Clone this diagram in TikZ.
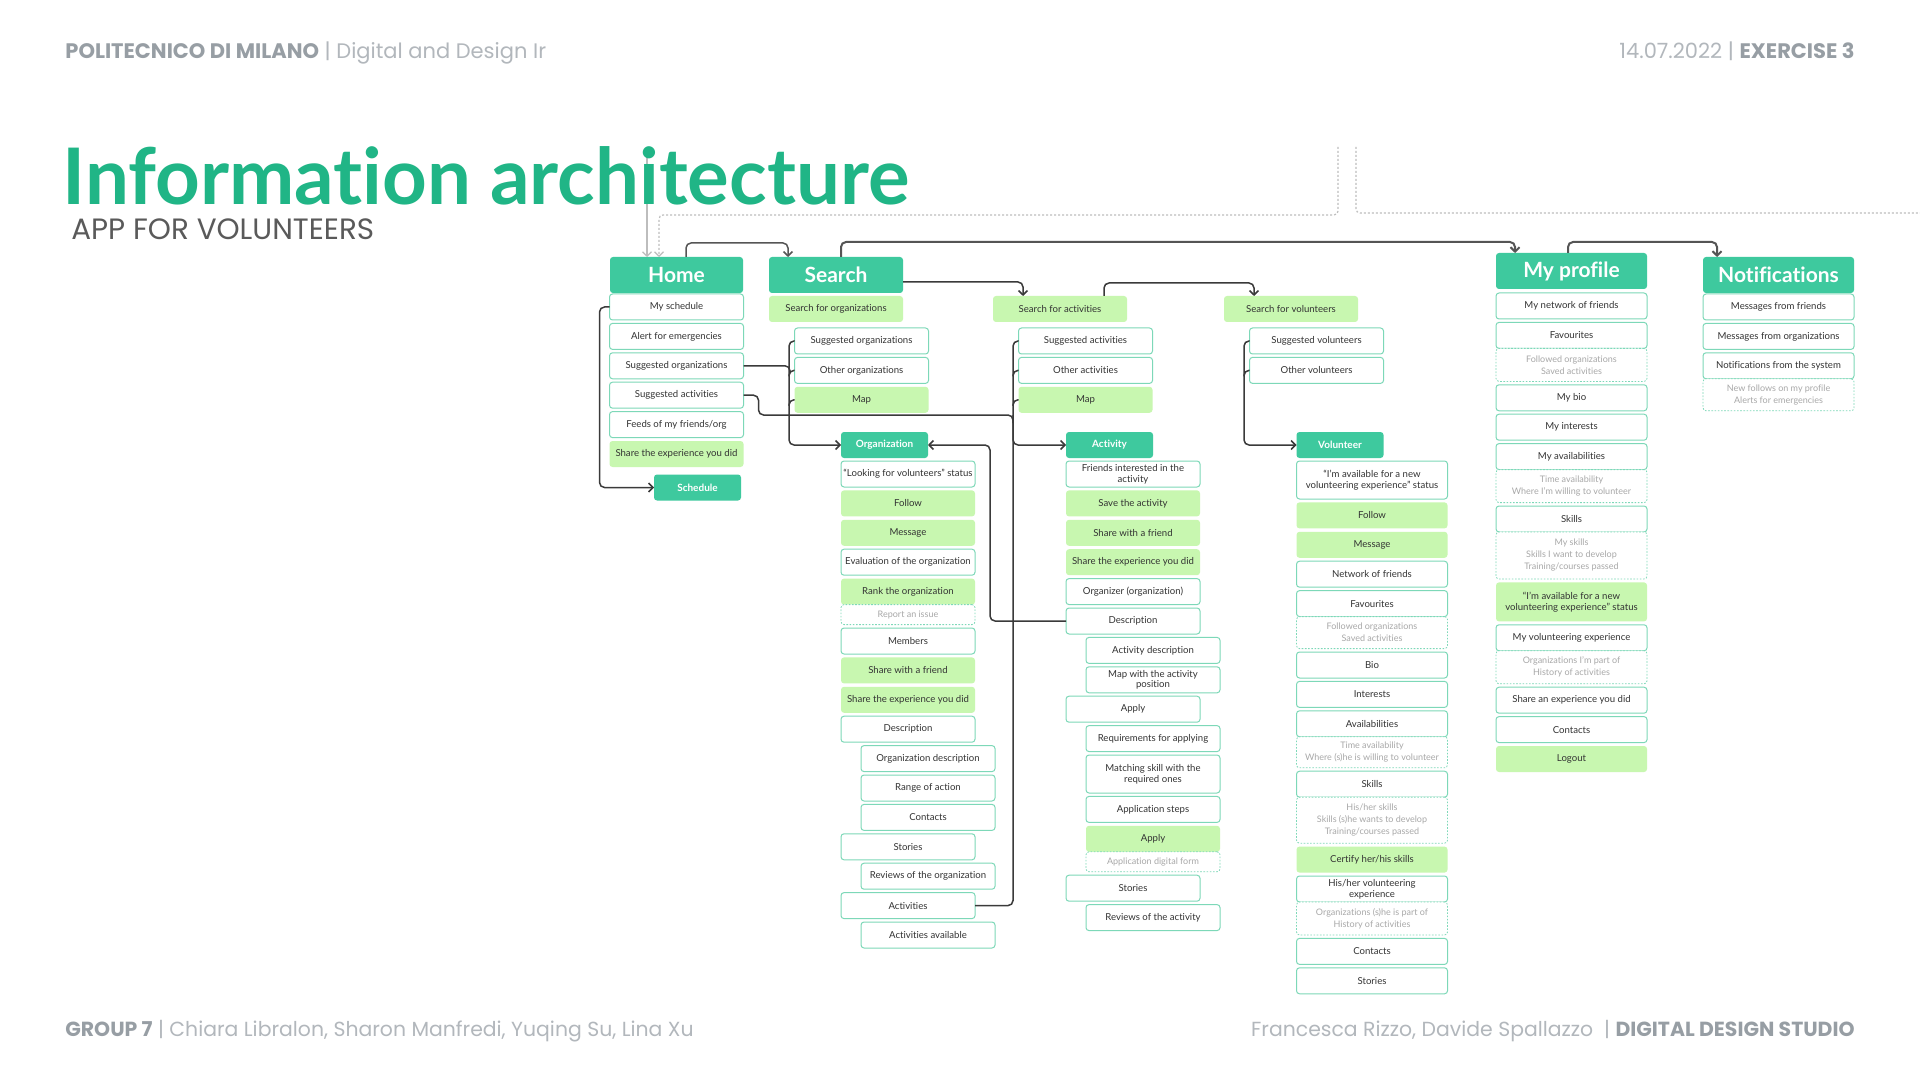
\documentclass[tikz,border=0pt]{standalone}
\usepackage{fontspec}
\setmainfont{Lato}[Ligatures=NoCommon]
\newfontfamily\pagefont{Poppins}
\usetikzlibrary{arrows.meta, positioning, calc}
\definecolor{hgreen}{HTML}{3EC99E}
\definecolor{lgreen}{HTML}{C8F7B0}
\definecolor{bgreen}{HTML}{7DD8B8}
\definecolor{tgreen}{HTML}{20B586}
\definecolor{txt}{HTML}{333333}
\definecolor{notegray}{HTML}{A8A8A8}
\definecolor{lncol}{HTML}{3A3A3A}
\definecolor{topcol}{HTML}{555555}
\definecolor{guidecol}{HTML}{BDBDBD}
\definecolor{pagegray}{HTML}{979EA4}
\definecolor{pglight}{HTML}{B2B7BC}
\definecolor{subcol}{HTML}{5A5A5A}
\tikzset{
    hdr/.style={
        fill=hgreen,
        text=white,
        rounded corners=1.5pt,
        minimum height=18pt,
        inner sep=0pt,
        outer sep=0pt,
        font=\fontsize{10.5}{12}\selectfont\bfseries
    },
    subhdr/.style={
        fill=hgreen,
        text=white,
        rounded corners=1.5pt,
        minimum width=43.5pt,
        minimum height=13pt,
        inner sep=0pt,
        outer sep=0pt,
        font=\fontsize{5}{6}\selectfont\bfseries
    },
    item/.style={
        draw=bgreen,
        line width=0.5pt,
        fill=white,
        rounded corners=1.5pt,
        minimum width=67pt,
        minimum height=13pt,
        inner sep=1pt,
        outer sep=0pt,
        align=center,
        text=txt,
        font=\fontsize{4.8}{5.4}\selectfont
    },
    action/.style={item, draw=none, fill=lgreen},
    wide/.style={minimum width=75.5pt},
    note/.style={item, dash pattern=on 0.8pt off 0.8pt, line width=0.4pt, text=notegray, font=\fontsize{4.5}{6}\selectfont},
    line/.style={-{Straight Barb[length=2.2pt,width=4.5pt]}, draw=lncol, line width=0.75pt, rounded corners=2.5pt},
    branch/.style={draw=lncol, line width=0.75pt, rounded corners=2.5pt},
    topline/.style={line, draw=topcol, line width=1pt},
    guide/.style={-{Straight Barb[length=2.2pt,width=4.5pt]}, draw=guidecol, line width=0.6pt},
    guidedash/.style={guide, dash pattern=on 1pt off 1pt, rounded corners=2pt},
    pagetext/.style={inner sep=0pt, font=\pagefont\fontsize{10.5}{12}\selectfont},
    foottext/.style={inner sep=0pt, font=\pagefont\fontsize{10.2}{12}\selectfont}
}

\begin{document}
\begin{tikzpicture}[x=0.5pt, y=-0.5pt, node distance=1.7pt]
\fill[white] (0,0) rectangle (1920,1080);
\useasboundingbox (0,0) rectangle (1920,1080);

% page header and footer
\node[pagetext, anchor=base west] (school) at (65,59) {\textcolor{pagegray}{\bfseries POLITECNICO DI MILANO} \textcolor{pglight}{| Digital and Design Ir}};
\node[pagetext, anchor=base east] (exercise) at (1855,59) {\textcolor{pglight}{14.07.2022 |} \textcolor{pagegray}{\bfseries EXERCISE 3}};
\node[foottext, anchor=base west] (group) at (65,1036) {\textcolor{pagegray}{\bfseries GROUP 7} \textcolor{pglight}{| Chiara Libralon, Sharon Manfredi, Yuqing Su, Lina Xu}};
\node[foottext, anchor=base east] (studio) at (1855,1036) {\textcolor{pglight}{Francesca Rizzo, Davide Spallazzo \ |} \textcolor{pagegray}{\bfseries DIGITAL DESIGN STUDIO}};

% guides from above
\coordinate (g1) at (647,147);
\coordinate (g2) at (1338,147);
\coordinate (g2b) at (1338,215);
\coordinate (g3) at (1356,147);
\coordinate (g4) at (1920,213);

% main sections
\node[hdr, minimum width=66.5pt] (home) at (676.5,275) {Home};
\node[hdr, minimum width=67pt] (search) at (836,275) {Search};
\node[hdr, wide] (prof) at (1571.5,271) {My profile};
\node[hdr, wide] (notif) at (1778.5,275) {Notifications};

\draw[guide] (g1) -- (g1 |- home.north);
\draw[guidedash] (g2) -- (g2b) -| ([xshift=-8.75pt]home.north);
\draw[guidedash, -] (g3) |- (g4);

\node[anchor=base west, inner sep=0pt, text=tgreen, font=\fontsize{39}{44}\selectfont\bfseries] (title) at (62,205) {Information architecture};
\node[anchor=base west, inner sep=0pt, text=subcol, font=\pagefont\fontsize{14.7}{17}\selectfont] (subtitle) at (71,240) {APP FOR VOLUNTEERS};

% home
\node[item, below=0.5pt of home] (h1) {My schedule};
\node[item, below=of h1] (h2) {Alert for emergencies};
\node[item, below=of h2] (h3) {Suggested organizations};
\node[item, below=of h3] (h4) {Suggested activities};
\node[item, below=of h4] (h5) {Feeds of my friends/org};
\node[action, below=of h5] (h6) {Share the experience you did};
\node[subhdr] (sched) at (697.5,487.5) {Schedule};

% search
\node[action, below=1.5pt of search] (sorg) {Search for organizations};
\node[item, below=3pt of sorg, xshift=12.75pt] (so1) {Suggested organizations};
\node[item, below=of so1] (so2) {Other organizations};
\node[action, below=of so2] (so3) {Map};

\node[action] (sact) at (1060,309) {Search for activities};
\node[item, below=3pt of sact, xshift=12.75pt] (sa1) {Suggested activities};
\node[item, below=of sa1] (sa2) {Other activities};
\node[action, below=of sa2] (sa3) {Map};

\node[action] (svol) at (1291,309) {Search for volunteers};
\node[item, below=3pt of svol, xshift=12.75pt] (sv1) {Suggested volunteers};
\node[item, below=of sv1] (sv2) {Other volunteers};

% organization
\node[subhdr] (org) at (884.5,445) {Organization};
\node[item, below=1.5pt of org.south west, anchor=north west] (o1) {“Looking for volunteers” status};
\node[action, below=of o1] (o2) {Follow};
\node[action, below=of o2] (o3) {Message};
\node[item, below=of o3] (o4) {Evaluation of the organization};
\node[action, below=of o4] (o5) {Rank the organization};
\node[note, below=0pt of o5, minimum height=10pt] (o5n) {Report an issue};
\node[item, below=of o5n] (o6) {Members};
\node[action, below=of o6] (o7) {Share with a friend};
\node[action, below=of o7] (o8) {Share the experience you did};
\node[item, below=of o8] (o9) {Description};
\node[item, below=of o9, xshift=10pt] (o10) {Organization description};
\node[item, below=of o10] (o11) {Range of action};
\node[item, below=of o11] (o12) {Contacts};
\node[item, below=of o12, xshift=-10pt] (o13) {Stories};
\node[item, below=of o13, xshift=10pt] (o14) {Reviews of the organization};
\node[item, below=of o14, xshift=-10pt] (o15) {Activities};
\node[item, below=of o15, xshift=10pt] (o16) {Activities available};

% activity
\node[subhdr] (act) at (1109.5,445) {Activity};
\node[item, below=1.5pt of act.south west, anchor=north west] (a1) {Friends interested in the\\activity};
\node[action, below=of a1] (a2) {Save the activity};
\node[action, below=of a2] (a3) {Share with a friend};
\node[action, below=of a3] (a4) {Share the experience you did};
\node[item, below=of a4] (a5) {Organizer (organization)};
\node[item, below=of a5] (a6) {Description};
\node[item, below=of a6, xshift=10pt] (a7) {Activity description};
\node[item, below=of a7] (a8) {Map with the activity\\position};
\node[item, below=of a8, xshift=-10pt] (a9) {Apply};
\node[item, below=of a9, xshift=10pt] (a10) {Requirements for applying};
\node[item, below=of a10, minimum height=19pt] (a11) {Matching skill with the\\required ones};
\node[item, below=of a11] (a12) {Application steps};
\node[action, below=of a12] (a13) {Apply};
\node[note, below=0pt of a13, minimum height=10pt] (a13n) {Application digital form};
\node[item, below=of a13n, xshift=-10pt] (a14) {Stories};
\node[item, below=of a14, xshift=10pt] (a15) {Reviews of the activity};

% volunteer
\node[subhdr] (vol) at (1340,445) {Volunteer};
\node[item, wide, minimum height=19pt, below=1.5pt of vol.south west, anchor=north west] (v1) {“I’m available for a new\\volunteering experience” status};
\node[action, wide, below=of v1] (v2) {Follow};
\node[action, wide, below=of v2] (v3) {Message};
\node[item, wide, below=of v3] (v4) {Network of friends};
\node[item, wide, below=of v4] (v5) {Favourites};
\node[note, wide, below=0pt of v5, minimum height=16pt] (v5n) {Followed organizations\\Saved activities};
\node[item, wide, below=of v5n] (v6) {Bio};
\node[item, wide, below=of v6] (v7) {Interests};
\node[item, wide, below=of v7] (v8) {Availabilities};
\node[note, wide, below=0pt of v8, minimum height=15.5pt] (v8n) {Time availability\\Where (s)he is willing to volunteer};
\node[item, wide, below=of v8n] (v9) {Skills};
\node[note, wide, below=0pt of v9, minimum height=23pt] (v9n) {His/her skills\\Skills (s)he wants to develop\\Training/courses passed};
\node[action, wide, below=of v9n] (v10) {Certify her/his skills};
\node[item, wide, below=of v10] (v11) {His/her volunteering\\experience};
\node[note, wide, below=0pt of v11, minimum height=16.5pt] (v11n) {Organizations (s)he is part of\\History of activities};
\node[item, wide, below=of v11n] (v12) {Contacts};
\node[item, wide, below=of v12] (v13) {Stories};

% my profile
\node[item, wide, below=2pt of prof] (p1) {My network of friends};
\node[item, wide, below=of p1] (p2) {Favourites};
\node[note, wide, below=0pt of p2, minimum height=16.5pt] (p2n) {Followed organizations\\Saved activities};
\node[item, wide, below=of p2n] (p3) {My bio};
\node[item, wide, below=of p3] (p4) {My interests};
\node[item, wide, below=of p4] (p5) {My availabilities};
\node[note, wide, below=0pt of p5, minimum height=16.5pt] (p5n) {Time availability\\Where I’m willing to volunteer};
\node[item, wide, below=of p5n] (p6) {Skills};
\node[note, wide, below=0pt of p6, minimum height=23.5pt] (p6n) {My skills\\Skills I want to develop\\Training/courses passed};
\node[action, wide, below=of p6n, minimum height=19.5pt] (p7) {“I’m available for a new\\volunteering experience” status};
\node[item, wide, below=of p7] (p8) {My volunteering experience};
\node[note, wide, below=0pt of p8, minimum height=16.5pt] (p8n) {Organizations I’m part of\\History of activities};
\node[item, wide, below=of p8n] (p9) {Share an experience you did};
\node[item, wide, below=of p9] (p10) {Contacts};
\node[action, wide, below=of p10] (p11) {Logout};

% notifications
\node[item, wide, below=0.5pt of notif] (n1) {Messages from friends};
\node[item, wide, below=of n1] (n2) {Messages from organizations};
\node[item, wide, below=of n2] (n3) {Notifications from the system};
\node[note, wide, below=0pt of n3, minimum height=16pt] (n3n) {New follows on my profile\\Alerts for emergencies};

% top level links
\draw[line, draw=topcol] ([xshift=4.75pt]home.north) -- ++(0,-14) -| ([xshift=-24pt]search.north);
\draw[topline] ([xshift=2.5pt]search.north) -- ++(0,-15) -| ([xshift=-28.25pt]prof.north);
\draw[topline] ([xshift=-1.75pt]prof.north) -- ++(0,-11) -| ([xshift=-30.75pt]notif.north);
\draw[line] ([yshift=-3.5pt]search.east) -| ([xshift=-18.5pt]sact.north);
\draw[line] ([xshift=22pt]sact.north) -- ++(0,-13) -| ([xshift=-18.5pt]svol.north);

% brackets
\coordinate (actbus) at (1013,415);
\coordinate (orgbus) at (990,445);
\draw[line] (h1.west) -- ++(-10,0) |- (sched.west);
\draw[line] (so1.west) -- ++(-5.5,0) |- (org.west);
\draw[branch] (so2.west) -- ++(-5.5,0) -- ++(0,6);
\draw[branch] (so3.west) -- ++(-5.5,0) -- ++(0,6);
\draw[branch] (h3.east) -- ++(46.5,0) -- ++(0,6);
\draw[line] (sa1.west) -- ++(-5.5,0) |- (act.west);
\draw[branch] (sa2.west) -- ++(-5.5,0) -- ++(0,6);
\draw[branch] (sa3.west) -- ++(-5.5,0) -- ++(0,6);
\draw[branch] (h4.east) -- ++(15,0) |- (actbus) -- ++(0,8);
\draw[branch] (o15.east) -| (actbus);
\draw[line] (a6.west) -| (orgbus) -- (org.east);
\draw[line] (sv1.west) -- ++(-5.5,0) |- (vol.west);
\draw[branch] (sv2.west) -- ++(-5.5,0) -- ++(0,6);
\end{tikzpicture}
\end{document}
